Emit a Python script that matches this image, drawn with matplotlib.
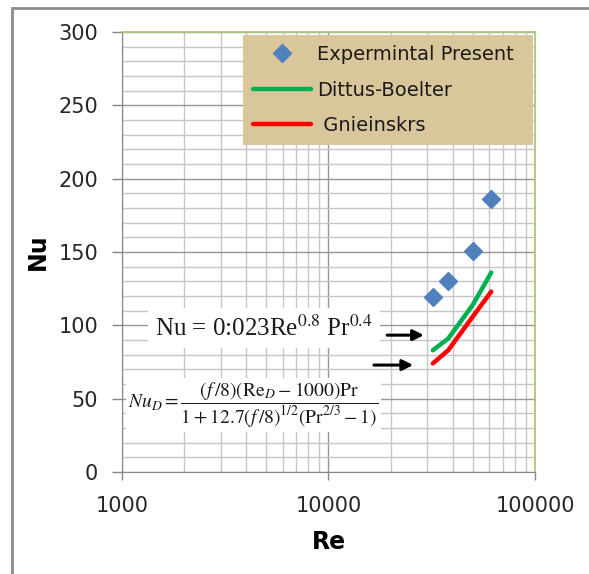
import numpy as np
import matplotlib
matplotlib.use('Agg')
import matplotlib.pyplot as plt
from matplotlib.patches import Rectangle
from matplotlib.ticker import FixedLocator, NullFormatter

plt.rcParams['font.family'] = ['DejaVu Sans']
plt.rcParams['mathtext.fontset'] = 'stix'

# measured points
re_exp = [32000, 38000, 50000, 61400]
nu_exp = [119, 130, 151, 186]

# correlations evaluated at the same Re
re_corr = [32000, 38000, 50000, 61400]
nu_dittus = [83, 91, 114, 136]
nu_gniel = [74, 83, 106, 123]

x_ticks = [1000, 10000, 100000]
x_ticklabels = ['1000', '10000', '100000']
y_ticks = [0, 50, 100, 150, 200, 250, 300]

fig = plt.figure(figsize=(5.89, 5.74), dpi=100)
ax = fig.add_axes([0.2071, 0.1777, 0.7012, 0.7666])

# outer chart frame
fig.patches.append(Rectangle((0.0204, -0.1), 1.2, 1.086, transform=fig.transFigure,
                             fill=False, edgecolor='#8c8c8c', linewidth=2.0))

ax.set_xscale('log')
ax.set_xlim(1000, 100000)
ax.set_ylim(0, 300)

# grid: light minor lines, darker major ones
minor_x = [m * 10 ** d for d in (3, 4) for m in range(2, 10)]
ax.xaxis.set_minor_locator(FixedLocator(minor_x))
ax.xaxis.set_minor_formatter(NullFormatter())
ax.yaxis.set_minor_locator(FixedLocator(np.arange(0, 301, 10)))
ax.grid(which='minor', color='#c6c6c6', linewidth=1.0)
ax.grid(which='major', color='#979797', linewidth=1.0)
ax.set_axisbelow(True)

ax.set_xticks(x_ticks)
ax.set_xticklabels(x_ticklabels)
ax.set_yticks(y_ticks)
ax.tick_params(which='minor', length=0)
ax.tick_params(axis='x', which='major', direction='out', length=6, width=1,
               color='#868686', pad=11, labelsize=15, labelcolor='#262626')
ax.tick_params(axis='y', which='major', direction='out', length=7, width=1,
               color='#868686', pad=10, labelsize=15, labelcolor='#262626')

for side in ('left', 'bottom'):
    ax.spines[side].set_color('#868686')
for side in ('top', 'right'):
    ax.spines[side].set_color('#a9c97a')
    ax.spines[side].set_linewidth(1.3)

ax.plot(re_exp, nu_exp, linestyle='none', marker='D', markersize=9,
        color='#4f81bd', label='Expermintal Present', zorder=5)
ax.plot(re_corr, nu_dittus, color='#00b050', linewidth=3.2,
        solid_capstyle='round', label='Dittus-Boelter', zorder=4)
ax.plot(re_corr, nu_gniel, color='#ff0000', linewidth=3.2,
        solid_capstyle='round', label=' Gnieinskrs', zorder=4)

ax.set_xlabel('Re', fontsize=17, fontweight='bold', labelpad=10)
ax.set_ylabel('Nu', fontsize=17, fontweight='bold', labelpad=6)

leg = ax.legend(loc='upper left', bbox_to_anchor=(0.293, 0.739, 0.702, 0.253),
                mode='expand', fontsize=14, frameon=True, fancybox=False,
                framealpha=1, facecolor='#dac69b', edgecolor='none',
                handlelength=3.0, handletextpad=0.3, labelspacing=0.85,
                borderaxespad=0, borderpad=0.5)
for t in leg.get_texts():
    t.set_color('#1a1a1a')

# correlation formulas with pointer arrows
ax.text(0.344, 0.327, r'Nu = 0:023Re$^{0.8}$ Pr$^{0.4}$',
        family='Liberation Serif', transform=ax.transAxes, ha='center',
        va='center', fontsize=18, color='#1a1a1a',
        bbox=dict(facecolor='white', edgecolor='none', pad=5), zorder=6)
ax.text(0.318, 0.152,
        r'$Nu_D = \dfrac{(f\,/8)(\mathrm{Re}_D - 1000)\mathrm{Pr}}'
        r'{1 + 12.7(f\,/8)^{1/2}\left(\mathrm{Pr}^{2/3} - 1\right)}$',
        transform=ax.transAxes, ha='center', va='center', fontsize=14,
        color='#1a1a1a', bbox=dict(facecolor='white', edgecolor='none', pad=2),
        zorder=6)
arrow = dict(arrowstyle='-|>', color='black', linewidth=2.2, mutation_scale=16,
             shrinkA=0, shrinkB=0)
ax.annotate('', xy=(0.731, 0.311), xytext=(0.642, 0.311),
            xycoords='axes fraction', arrowprops=arrow, zorder=6)
ax.annotate('', xy=(0.705, 0.243), xytext=(0.610, 0.243),
            xycoords='axes fraction', arrowprops=arrow, zorder=6)

fig.savefig('out.png', dpi=100)
